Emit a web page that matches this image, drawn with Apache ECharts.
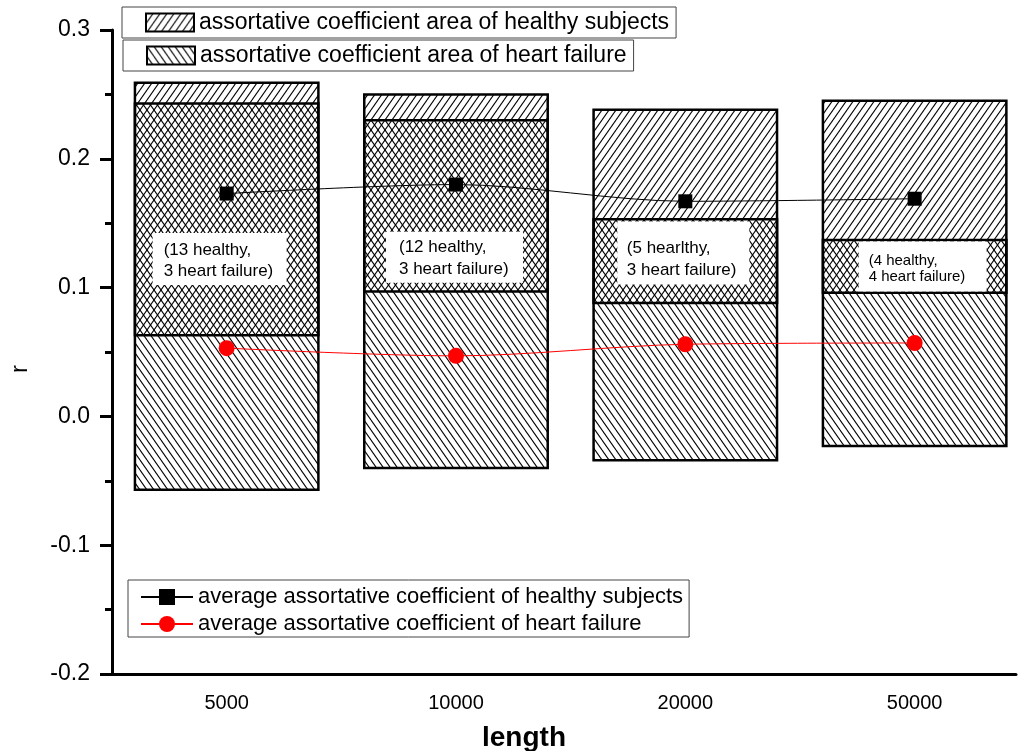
<!DOCTYPE html>
<html><head><meta charset="utf-8">
<script src="https://cdn.jsdelivr.net/npm/echarts@6/dist/echarts.min.js"></script>
<style>html,body{margin:0;padding:0;background:#fff}#c{width:1018px;height:751px}</style>
</head><body><div id="c"></div>
<script>
// ---- data ----
const lengths = ['5000', '10000', '20000', '50000'];
const healthyHigh = [0.259, 0.250, 0.238, 0.245];
const healthyLow  = [0.063, 0.097, 0.088, 0.096];
const hfHigh      = [0.243, 0.230, 0.153, 0.137];
const hfLow       = [-0.057, -0.040, -0.034, -0.023];
const healthyAvg  = [0.173, 0.180, 0.167, 0.169];
const hfAvg       = [0.053, 0.047, 0.056, 0.057];
const notes = ['(13 healthy,\n3 heart failure)', '(12 healthy,\n3 heart failure)',
               '(5 hearlthy,\n3 heart failure)', '(4 healthy,\n4 heart failure)'];
const yTicks = [-0.2, -0.1, 0.0, 0.1, 0.2, 0.3];

const nameHealthyArea = 'assortative coefficient area of healthy subjects';
const nameHfArea = 'assortative coefficient area of heart failure';
const nameHealthyAvg = 'average assortative coefficient of healthy subjects';
const nameHfAvg = 'average assortative coefficient of heart failure';

// ---- hatch patterns ----
function makeHatch(dir) {
  const w = 7, h = 10;
  const c = document.createElement('canvas');
  c.width = w; c.height = h;
  const ctx = c.getContext('2d');
  ctx.strokeStyle = '#000';
  ctx.lineWidth = 1.1;
  for (const dx of [-w, 0, w]) for (const dy of [-h, 0, h]) {
    ctx.beginPath();
    if (dir === '/') { ctx.moveTo(dx, dy + h); ctx.lineTo(dx + w, dy); }
    else { ctx.moveTo(dx, dy); ctx.lineTo(dx + w, dy + h); }
    ctx.stroke();
  }
  return { image: c, repeat: 'repeat' };
}
const patH = makeHatch('/');
const patF = makeHatch('\\');

const FONT = '"Liberation Sans", Arial, sans-serif';
const HALF = 0.4;

function areaRender(pat) {
  return function (params, api) {
    const x = api.value(0);
    const p1 = api.coord([x - HALF, api.value(2)]);
    const p2 = api.coord([x + HALF, api.value(1)]);
    return {
      type: 'rect',
      shape: { x: p1[0], y: p1[1], width: p2[0] - p1[0], height: p2[1] - p1[1] },
      style: { fill: pat, stroke: '#000', lineWidth: 2.5 }
    };
  };
}

// note box layout (style only)
const noteBox = [
  { dx: -74, top: 0.1423, w: 134, h: 52, padL: 11, padT: 6, fs: 17, lh: 21.7 },
  { dx: -70, top: 0.1433, w: 137, h: 51, padL: 13, padT: 5, fs: 17, lh: 21.7 },
  { dx: -68, top: 0.1513, w: 132, h: 63, padL: 9.5, padT: 16, fs: 17, lh: 21.7 },
  { dx: -56, top: 0.1358, w: 128, h: 50, padL: 10, padT: 11, fs: 15, lh: 16.5 }
];

function noteRender(params, api) {
  const i = params.dataIndex;
  const b = noteBox[i];
  const p = api.coord([api.value(0), b.top]);
  const x0 = p[0] + b.dx, y0 = p[1];
  return {
    type: 'group',
    children: [
      { type: 'rect', shape: { x: x0, y: y0, width: b.w, height: b.h }, style: { fill: '#fff' } },
      { type: 'text', x: x0 + b.padL, y: y0 + b.padT,
        style: { text: notes[i], fill: '#000', font: b.fs + 'px ' + FONT, lineHeight: b.lh,
                 align: 'left', verticalAlign: 'top' } }
    ]
  };
}

const chart = echarts.init(document.getElementById('c'));
const legendBase = {
  orient: 'vertical', itemWidth: 48, itemHeight: 18, selectedMode: false,
  borderColor: '#444', borderWidth: 1, backgroundColor: '#fff',
  textStyle: { fontSize: 23, color: '#000', fontFamily: FONT }
};
chart.setOption({
  animation: false,
  textStyle: { fontFamily: FONT },
  grid: { left: 112, right: 2, top: 30, bottom: 77, outerBoundsMode: 'none' },
  xAxis: {
    type: 'value', min: 0.5, max: 4.442, interval: 0.5,
    splitLine: { show: false },
    axisTick: { show: false },
    axisLine: { show: true, onZero: false, lineStyle: { color: '#000', width: 3 } },
    axisLabel: {
      fontSize: 20, color: '#000', margin: 19, showMaxLabel: false,
      formatter: function (v) {
        const k = Math.round(v);
        return (Math.abs(v - k) < 1e-6 && k >= 1 && k <= lengths.length) ? lengths[k - 1] : '';
      }
    },
    name: 'length', nameLocation: 'middle', nameGap: 50,
    nameTextStyle: { fontSize: 28, fontWeight: 'bold', color: '#000', padding: [0, 80, 0, 0] }
  },
  yAxis: {
    type: 'value', min: yTicks[0], max: yTicks[yTicks.length - 1], interval: 0.1,
    splitLine: { show: false },
    axisLine: { show: true, lineStyle: { color: '#000', width: 3 } },
    axisTick: { show: true, length: 12, lineStyle: { color: '#000', width: 3 } },
    minorTick: { show: true, splitNumber: 2, length: 7, lineStyle: { color: '#000', width: 3 } },
    axisLabel: {
      fontSize: 23, color: '#000', margin: 22,
      formatter: function (v) { return (Math.abs(v) < 1e-9 ? 0 : v).toFixed(1); }
    },
    name: 'r', nameLocation: 'middle', nameGap: 80, nameRotate: 90,
    nameTextStyle: { fontSize: 24, color: '#000', padding: [0, 34, 0, 0] }
  },
  legend: [
    Object.assign({}, legendBase, {
      left: 122, top: 7, padding: [4, 7, 4, 23],
      data: [{ name: nameHealthyArea, icon: 'rect',
               itemStyle: { color: patH, borderColor: '#000', borderWidth: 2 } }]
    }),
    Object.assign({}, legendBase, {
      left: 123, top: 40, padding: [4, 7, 4, 23],
      data: [{ name: nameHfArea, icon: 'rect',
               itemStyle: { color: patF, borderColor: '#000', borderWidth: 2 } }]
    }),
    Object.assign({}, legendBase, {
      left: 128, top: 580, padding: [6, 6, 2, 12], itemWidth: 52, itemHeight: 20, itemGap: 5,
      textStyle: { fontSize: 22, color: '#000', fontFamily: FONT },
      data: [nameHealthyAvg, nameHfAvg]
    })
  ],
  series: [
    { type: 'custom', name: nameHealthyArea, z: 1, renderItem: areaRender(patH),
      itemStyle: { color: patH, borderColor: '#000', borderWidth: 2 },
      encode: { x: 0, y: [1, 2] },
      data: lengths.map((_, i) => [i + 1, healthyLow[i], healthyHigh[i]]) },
    { type: 'custom', name: nameHfArea, z: 2, renderItem: areaRender(patF),
      itemStyle: { color: patF, borderColor: '#000', borderWidth: 2 },
      encode: { x: 0, y: [1, 2] },
      data: lengths.map((_, i) => [i + 1, hfLow[i], hfHigh[i]]) },
    { type: 'custom', name: 'notes', z: 3, silent: true, renderItem: noteRender,
      encode: { x: 0, y: 1 },
      data: lengths.map((_, i) => [i + 1, 0.1]) },
    { type: 'line', name: nameHealthyAvg, z: 4, smooth: 0.3, symbol: 'rect', symbolSize: 14,
      lineStyle: { color: '#000', width: 1 }, itemStyle: { color: '#000' },
      data: lengths.map((_, i) => [i + 1, healthyAvg[i]]) },
    { type: 'line', name: nameHfAvg, z: 4, smooth: 0.3, symbol: 'circle', symbolSize: 16,
      lineStyle: { color: '#ff0000', width: 1 }, itemStyle: { color: '#ff0000' },
      data: lengths.map((_, i) => [i + 1, hfAvg[i]]) }
  ]
});
</script>
</body></html>
